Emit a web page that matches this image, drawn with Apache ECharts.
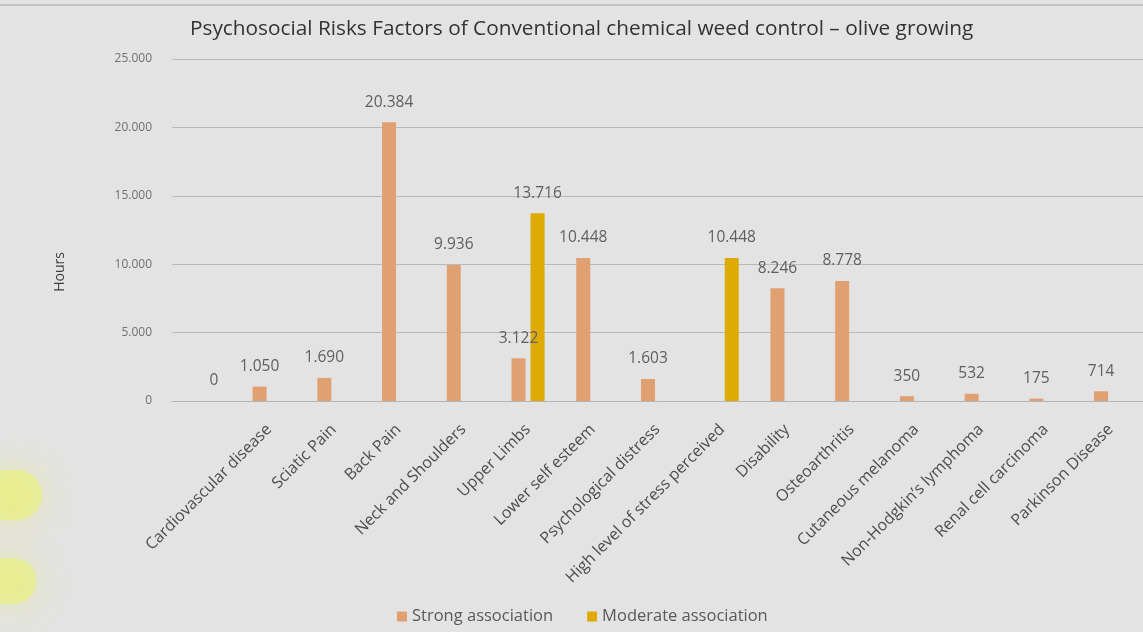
<!DOCTYPE html>
<html>
<head>
<meta charset="utf-8">
<script src="https://cdn.jsdelivr.net/npm/echarts@6/dist/echarts.min.js"></script>
<style>
  html, body { margin: 0; padding: 0; background: #e3e3e3; }
  #chart { width: 1143px; height: 632px; }
</style>
</head>
<body>
<div id="chart"></div>
<script>
// first slot has no name, it only carries the "0" label of the moderate series
const categories = ['', 'Cardiovascular disease', 'Sciatic Pain', 'Back Pain', 'Neck and Shoulders',
  'Upper Limbs', 'Lower self esteem', 'Psychological distress', 'High level of stress perceived',
  'Disability', 'Osteoarthritis', 'Cutaneous melanoma', 'Non-Hodgkin\u2019s lymphoma',
  'Renal cell carcinoma', 'Parkinson Disease']
const strongValues = ['-', 1050, 1690, 20384, 9936, 3122, 10448, 1603, '-', 8246, 8778, 350, 532, 175, 714]
const moderateValues = [0, '-', '-', '-', '-', 13716, '-', '-', 10448, '-', '-', '-', '-', '-', '-']
const yTicks = [0, 5000, 10000, 15000, 20000, 25000]

const font = '"Open Sans", sans-serif'

// 20384 -> 20.384
const fmt = v => String(v).replace(/\B(?=(\d{3})+(?!\d))/g, '.')

const chart = echarts.init(document.getElementById('chart'))

const labelStyle = {
  show: true,
  position: 'top',
  distance: 12,
  color: '#5f5f5f',
  fontSize: 15.5,
  fontFamily: font,
  formatter: p => fmt(p.value)
}

const option = {
  backgroundColor: '#e3e3e3',
  animation: false,
  title: {
    text: 'Psychosocial Risks Factors of Conventional chemical weed control \u2013 olive growing',
    left: 185,
    top: 14,
    textStyle: { color: '#333', fontSize: 20.8, fontWeight: 'normal', fontFamily: font }
  },
  legend: {
    bottom: 2,
    left: 392,
    itemWidth: 10,
    itemHeight: 10,
    itemGap: 34,
    icon: 'rect',
    textStyle: { color: '#595959', fontSize: 16.5, fontFamily: font },
    data: ['Strong association', 'Moderate association']
  },
  grid: { left: 172, right: -5, top: 59, bottom: 231, containLabel: false },
  xAxis: {
    type: 'category',
    data: categories,
    axisLine: { show: true, lineStyle: { color: '#b5b5b5' } },
    axisTick: { show: false },
    axisLabel: {
      interval: 0,
      rotate: 45,
      margin: 26,
      color: '#4d4d4d',
      fontSize: 16,
      fontFamily: font
    }
  },
  yAxis: {
    type: 'value',
    min: yTicks[0],
    max: yTicks[yTicks.length - 1],
    interval: 5000,
    axisLine: { show: false },
    axisTick: { show: false },
    splitLine: { lineStyle: { color: '#b9b9b9' } },
    axisLabel: { color: '#707070', fontSize: 12, margin: 20, fontFamily: font, formatter: fmt }
  },
  graphic: [
    { type: 'line', shape: { x1: 0, y1: 5, x2: 1143, y2: 5 }, style: { stroke: '#c4c4c4', lineWidth: 2 } },
    {
      type: 'text', x: 60, y: 272, rotation: Math.PI / 2,
      style: { text: 'Hours', fill: '#404040', fontSize: 14, fontFamily: font, align: 'center', verticalAlign: 'middle' }
    },
    {
      type: 'rect', shape: { x: -20, y: 470, width: 62, height: 50, r: 25 },
      style: { fill: 'rgba(235,245,90,0.45)', shadowBlur: 35, shadowColor: 'rgba(235,245,90,0.9)' }
    },
    {
      type: 'rect', shape: { x: -20, y: 558, width: 56, height: 46, r: 22 },
      style: { fill: 'rgba(235,245,90,0.45)', shadowBlur: 35, shadowColor: 'rgba(235,245,90,0.9)' }
    }
  ],
  series: [
    {
      name: 'Strong association',
      type: 'bar',
      data: strongValues,
      barWidth: 14,
      barGap: '36%',
      itemStyle: { color: '#e0a072' },
      label: labelStyle
    },
    {
      name: 'Moderate association',
      type: 'bar',
      data: moderateValues,
      barWidth: 14,
      itemStyle: { color: '#deaa05' },
      label: labelStyle
    }
  ]
}

chart.setOption(option)
</script>
</body>
</html>
